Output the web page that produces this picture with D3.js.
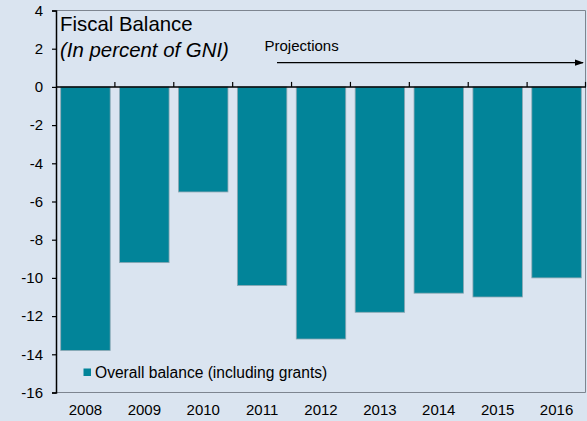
<!DOCTYPE html>
<html>
<head>
<meta charset="utf-8">
<script src="https://cdn.jsdelivr.net/npm/d3@7"></script>
<style>
  html, body { margin: 0; padding: 0; background: #dae4f0; }
  svg { display: block; font-family: "Liberation Sans", Arial, sans-serif; }
</style>
</head>
<body>
<svg id="chart" width="587" height="421"></svg>
<script>
// Fiscal balance, percent of GNI
const years = ["2008", "2009", "2010", "2011", "2012", "2013", "2014", "2015", "2016"];
const overallBalance = [-13.8, -9.2, -5.5, -10.4, -13.2, -11.8, -10.8, -11.0, -10.0];
const yTicks = [4, 2, 0, -2, -4, -6, -8, -10, -12, -14, -16];
const seriesName = "Overall balance (including grants)";

const W = 587, H = 421;
const m = { left: 56, right: 1, top: 10.5, bottom: 28.5 };
const svg = d3.select("#chart");

const x = d3.scaleBand().domain(years).range([m.left, W - m.right]).paddingInner(0.16).paddingOuter(0.08);
const y = d3.scaleLinear().domain([-16, 4]).range([H - m.bottom, m.top]);

const bg = "#dae4f0";
const teal = "#028499";

svg.append("rect").attr("width", W).attr("height", H).attr("fill", bg);

// plot frame (top, right, bottom)
svg.append("path")
  .attr("d", `M${m.left},${y(4)}H${W - m.right - 0.5}V${y(-16)}H${m.left}`)
  .attr("fill", "none").attr("stroke", "#7d8590").attr("stroke-width", 1);

// bars
svg.append("g").selectAll("rect").data(years).join("rect")
  .attr("x", d => x(d))
  .attr("width", x.bandwidth())
  .attr("y", (d, i) => y(Math.max(0, overallBalance[i])))
  .attr("height", (d, i) => Math.abs(y(overallBalance[i]) - y(0)))
  .attr("fill", teal)
  .attr("stroke", "#8da7b3").attr("stroke-width", 0.8);

// zero line with category boundary ticks
const step = x.step();
const bounds = d3.range(years.length + 1).map(i => m.left + i * step);
svg.append("line")
  .attr("x1", m.left).attr("x2", W - m.right)
  .attr("y1", y(0)).attr("y2", y(0))
  .attr("stroke", "#000").attr("stroke-width", 1.5);
svg.append("g").selectAll("line").data(bounds.slice(1)).join("line")
  .attr("x1", d => Math.min(d, W - 1.5)).attr("x2", d => Math.min(d, W - 1.5))
  .attr("y1", y(0)).attr("y2", y(0) - 5)
  .attr("stroke", "#000").attr("stroke-width", 1.2);

// y axis (plain hyphen for negatives)
const yAxis = d3.axisLeft(y).tickValues(yTicks).tickSize(4).tickPadding(9).tickFormat(d => String(d));
const yg = svg.append("g").attr("transform", `translate(${m.left},0)`).call(yAxis);
yg.select(".domain").attr("stroke", "#000").attr("stroke-width", 1.5);
yg.selectAll(".tick line").attr("stroke", "#000").attr("stroke-width", 1.2);
yg.selectAll(".tick text").attr("font-size", 15).attr("fill", "#000")
  .attr("font-family", "Liberation Sans, Arial, sans-serif");

// x axis labels
const xAxis = d3.axisBottom(x).tickSize(0).tickPadding(12);
const xg = svg.append("g").attr("transform", `translate(0,${y(-16)})`).call(xAxis);
xg.select(".domain").remove();
xg.selectAll(".tick text").attr("font-size", 15).attr("fill", "#000")
  .attr("font-family", "Liberation Sans, Arial, sans-serif");

// title
svg.append("text").attr("x", 60).attr("y", 31).attr("font-size", 20.4).attr("fill", "#000")
  .text("Fiscal Balance");
svg.append("text").attr("x", 60).attr("y", 56.5).attr("font-size", 20.4).attr("font-style", "italic").attr("fill", "#000")
  .text("(In percent of GNI)");

// projections marker
svg.append("defs").append("marker")
  .attr("id", "arrow").attr("viewBox", "0 0 10 10").attr("refX", 9).attr("refY", 5)
  .attr("markerWidth", 7).attr("markerHeight", 7).attr("orient", "auto")
  .append("path").attr("d", "M0,1.5L10,5L0,8.5Z").attr("fill", "#000");
svg.append("text").attr("x", 264.5).attr("y", 50.5).attr("font-size", 15).attr("fill", "#000")
  .text("Projections");
svg.append("line")
  .attr("x1", 277).attr("x2", 583).attr("y1", 62.7).attr("y2", 62.7)
  .attr("stroke", "#000").attr("stroke-width", 1.3).attr("marker-end", "url(#arrow)");

// legend
svg.append("rect").attr("x", 83.5).attr("y", 368.5).attr("width", 7.5).attr("height", 7.5).attr("fill", teal);
svg.append("text").attr("x", 95).attr("y", 377.5).attr("font-size", 15.6).attr("fill", "#000")
  .text(seriesName);
</script>
</body>
</html>
